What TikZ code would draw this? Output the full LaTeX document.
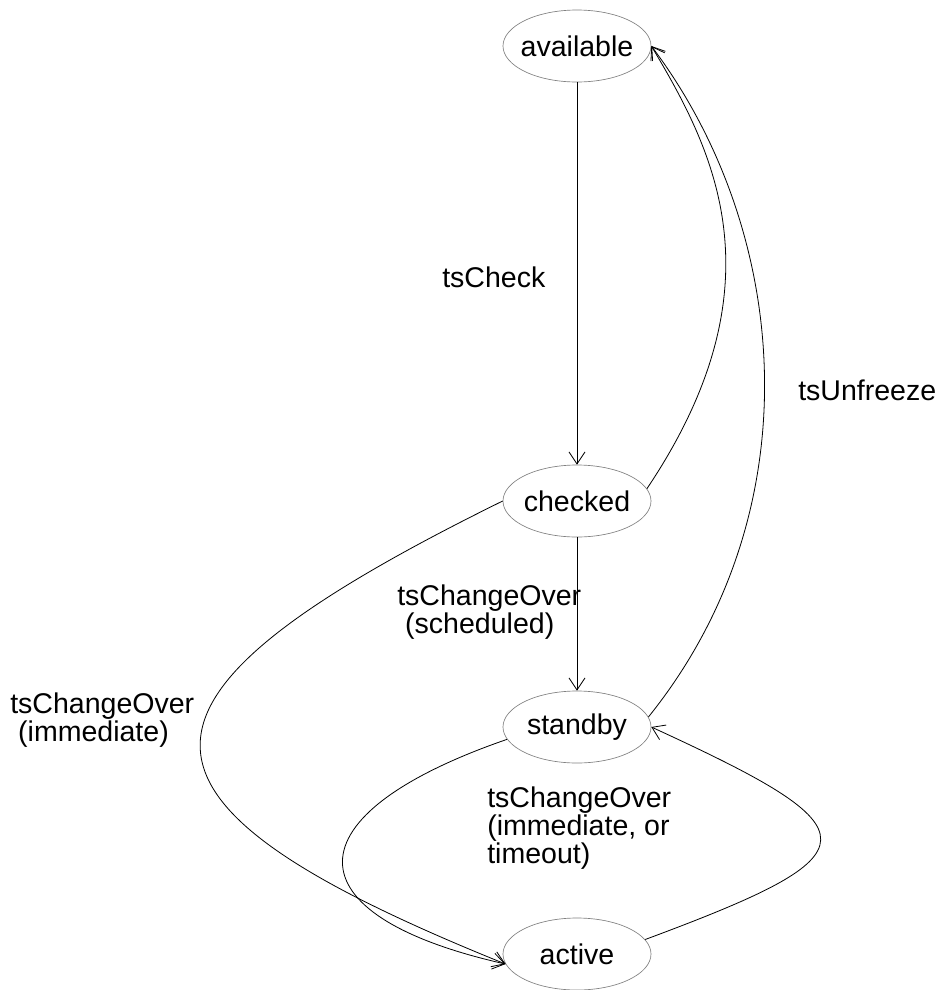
\documentclass[tikz,border=0pt]{standalone}
\usepackage{fontspec}
\setmainfont{Liberation Sans}
\usetikzlibrary{arrows.meta,shapes.geometric}

\begin{document}
\begin{tikzpicture}[x=0.75pt,y=-0.75pt,
    font=\fontsize{21.4pt}{21pt}\selectfont,
    >={Straight Barb[length=9pt,width=12pt]},
    state/.style={ellipse,draw=gray,line width=0.5pt,minimum width=111pt,
      minimum height=54pt,inner xsep=-14pt,inner ysep=0pt},
    trans/.style={->,line width=0.6pt},
    lbl/.style={inner sep=0pt,align=left}]
   \useasboundingbox (0,0) rectangle (946,990);

   % states
   \node[state] (available) at (577,46)  {available};
   \node[state] (checked)   at (577,501) {checked};
   \node[state] (standby)   at (577,727) {standby};
   \node[state] (active)    at (577,954) {active};

   % labels
   \node[lbl,anchor=base west] (lCheck) at (442,287) {tsCheck};
   \node[lbl,anchor=base west] (lUnfreeze) at (798,400) {tsUnfreeze};
   \node[lbl,anchor=north west] (lScheduled) at (397,584.2) {tsChangeOver\\ \ (scheduled)};
   \node[lbl,anchor=north west] (lImmediate) at (10,692.2) {tsChangeOver\\ \ (immediate)};
   \node[lbl,anchor=north west] (lTimeout) at (487,786.2) {tsChangeOver\\(immediate, or\\timeout)};

   % transitions
   \path[trans]
    (available) edge (checked)
    (checked)   edge (standby);
   \draw[trans] (checked.10) .. controls (785,283) and (712,148) .. (available.east);
   \draw[trans] (standby.8) .. controls (815,510) and (790,230) .. (available.east);
   \draw[trans] (checked.west) .. controls (99,700) and (99,800) .. (active.188);
   \draw[trans] (standby.190) .. controls (288,815) and (288,915) .. (active.188);
   \draw[trans] (active.12) .. controls (878,853) and (878,831) .. (standby.east);
\end{tikzpicture}
\end{document}
